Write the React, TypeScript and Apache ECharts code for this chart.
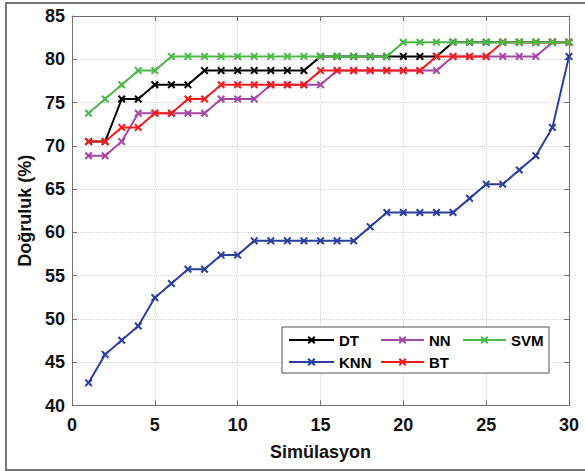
import React, { useEffect, useRef } from "react";
import * as echarts from "echarts";

const simulations = [1, 2, 3, 4, 5, 6, 7, 8, 9, 10, 11, 12, 13, 14, 15, 16, 17, 18, 19, 20, 21, 22, 23, 24, 25, 26, 27, 28, 29, 30];

const dtValues = [70.49, 70.49, 75.41, 75.41, 77.05, 77.05, 77.05, 78.69, 78.69, 78.69, 78.69, 78.69, 78.69, 78.69, 80.33, 80.33, 80.33, 80.33, 80.33, 80.33, 80.33, 80.33, 81.97, 81.97, 81.97, 81.97, 81.97, 81.97, 81.97, 81.97];
const knnValues = [42.62, 45.9, 47.54, 49.18, 52.46, 54.1, 55.74, 55.74, 57.38, 57.38, 59.02, 59.02, 59.02, 59.02, 59.02, 59.02, 59.02, 60.66, 62.3, 62.3, 62.3, 62.3, 62.3, 63.93, 65.57, 65.57, 67.21, 68.85, 72.13, 80.33];
const nnValues = [68.85, 68.85, 70.49, 73.77, 73.77, 73.77, 73.77, 73.77, 75.41, 75.41, 75.41, 77.05, 77.05, 77.05, 77.05, 78.69, 78.69, 78.69, 78.69, 78.69, 78.69, 78.69, 80.33, 80.33, 80.33, 80.33, 80.33, 80.33, 81.97, 81.97];
const btValues = [70.49, 70.49, 72.13, 72.13, 73.77, 73.77, 75.41, 75.41, 77.05, 77.05, 77.05, 77.05, 77.05, 77.05, 78.69, 78.69, 78.69, 78.69, 78.69, 78.69, 78.69, 80.33, 80.33, 80.33, 80.33, 81.97, 81.97, 81.97, 81.97, 81.97];
const svmValues = [73.77, 75.41, 77.05, 78.69, 78.69, 80.33, 80.33, 80.33, 80.33, 80.33, 80.33, 80.33, 80.33, 80.33, 80.33, 80.33, 80.33, 80.33, 80.33, 81.97, 81.97, 81.97, 81.97, 81.97, 81.97, 81.97, 81.97, 81.97, 81.97, 81.97];

const seriesNames = ["DT", "KNN", "NN", "BT", "SVM"];
const seriesColors = ["#000000", "#2b3d9e", "#a547a5", "#f21c1c", "#4cb846"];
const seriesValues = [dtValues, knnValues, nnValues, btValues, svmValues];

const xTicks = { min: 0, max: 30, interval: 5 };
const yTicks = { min: 40, max: 85, interval: 5 };

const FONT = "'Liberation Sans', Arial, Helvetica, sans-serif";
const CROSS = "path://M0,1.8L1.8,0L5,3.2L8.2,0L10,1.8L6.8,5L10,8.2L8.2,10L5,6.8L1.8,10L0,8.2L3.2,5Z";
const AXIS_COLOR = "#707070";

export default function App() {
  const ref = useRef<HTMLDivElement>(null);
  useEffect(() => {
    const chart = echarts.init(ref.current as HTMLDivElement, null, { renderer: "svg" });
    const labelStyle = { color: "#111", fontSize: 18, fontWeight: "bold" as const, fontFamily: FONT };
    const legendText = { color: "#000", fontSize: 15, fontWeight: "bold" as const, fontFamily: FONT, lineHeight: 16 };
    const legendCommon = {
      orient: "vertical" as const,
      top: 332,
      itemGap: 6,
      itemHeight: 10,
      textStyle: legendText,
      padding: 0,
      z: 20,
    };
    const option: any = {
      animation: false,
      backgroundColor: "#ffffff",
      grid: { left: 72, right: 16, top: 16, bottom: 65.5, containLabel: false },
      graphic: [
        {
          type: "rect",
          shape: { x: 6, y: 3, width: 620, height: 467 },
          style: { fill: "none", stroke: "#4a4a4a", lineWidth: 1.5 },
          z: 0,
          silent: true,
        },
        {
          type: "rect",
          shape: { x: 282, y: 327, width: 267, height: 46 },
          style: { fill: "#ffffff", stroke: "#555555", lineWidth: 1 },
          z: 19,
          silent: true,
        },
      ],
      legend: [
        { ...legendCommon, left: 288, itemWidth: 45, data: ["DT", "KNN"] },
        { ...legendCommon, left: 380, itemWidth: 43, data: ["NN", "BT"] },
        { ...legendCommon, left: 462, itemWidth: 43, data: ["SVM"] },
      ],
      xAxis: [
        {
          type: "value",
          min: xTicks.min,
          max: xTicks.max,
          interval: xTicks.interval,
          name: "Simülasyon",
          nameLocation: "middle",
          nameGap: 37,
          nameTextStyle: { color: "#111", fontSize: 18, fontWeight: "bold", fontFamily: FONT },
          axisLine: { show: true, onZero: false, lineStyle: { color: AXIS_COLOR, width: 1 } },
          axisTick: { show: true, inside: true, length: 5, lineStyle: { color: AXIS_COLOR } },
          axisLabel: { ...labelStyle, margin: 10 },
          splitLine: { show: true, lineStyle: { color: "#cfcfcf", type: "dotted", width: 1 } },
        },
        {
          type: "value",
          position: "top",
          min: xTicks.min,
          max: xTicks.max,
          interval: xTicks.interval,
          axisLine: { show: true, onZero: false, lineStyle: { color: AXIS_COLOR, width: 1 } },
          axisTick: { show: true, inside: true, length: 5, lineStyle: { color: AXIS_COLOR } },
          axisLabel: { show: false },
          splitLine: { show: false },
        },
      ],
      yAxis: [
        {
          type: "value",
          min: yTicks.min,
          max: yTicks.max,
          interval: yTicks.interval,
          name: "Doğruluk (%)",
          nameLocation: "middle",
          nameGap: 35,
          nameTextStyle: { color: "#111", fontSize: 18, fontWeight: "bold", fontFamily: FONT },
          axisLine: { show: true, onZero: false, lineStyle: { color: AXIS_COLOR, width: 1 } },
          axisTick: { show: true, inside: true, length: 5, lineStyle: { color: AXIS_COLOR } },
          axisLabel: { ...labelStyle, margin: 7 },
          splitLine: { show: true, lineStyle: { color: "#cfcfcf", type: "dotted", width: 1 } },
        },
        {
          type: "value",
          position: "right",
          min: yTicks.min,
          max: yTicks.max,
          interval: yTicks.interval,
          axisLine: { show: true, onZero: false, lineStyle: { color: AXIS_COLOR, width: 1 } },
          axisTick: { show: true, inside: true, length: 5, lineStyle: { color: AXIS_COLOR } },
          axisLabel: { show: false },
          splitLine: { show: false },
        },
      ],
      series: seriesNames.map((name, i) => ({
        name,
        type: "line",
        xAxisIndex: 0,
        yAxisIndex: 0,
        data: simulations.map((x, j) => [x, seriesValues[i][j]]),
        symbol: CROSS,
        symbolSize: 8,
        showSymbol: true,
        showAllSymbol: true,
        lineStyle: { color: seriesColors[i], width: 2 },
        itemStyle: { color: seriesColors[i] },
        emphasis: { disabled: true },
        z: 2 + i * 2,
      })),
    };
    chart.setOption(option);
    return () => chart.dispose();
  }, []);
  return (
    <div
      ref={ref}
      style={{ position: "absolute", left: 0, top: 0, width: 585, height: 471, background: "#fff" }}
    />
  );
}
